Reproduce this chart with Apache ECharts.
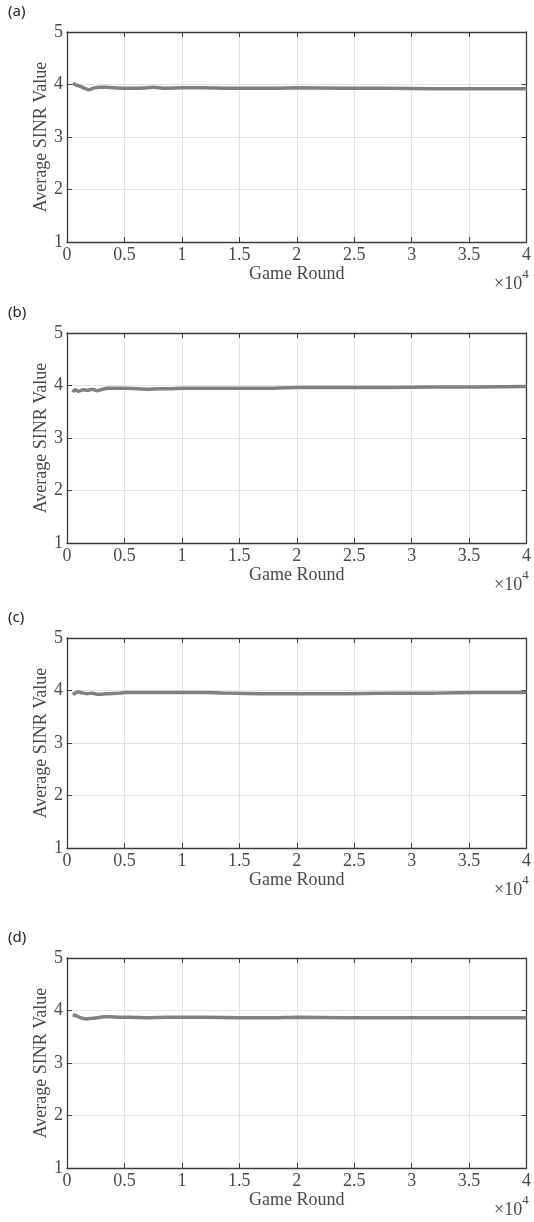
<!DOCTYPE html>
<html>
<head>
<meta charset="utf-8">
<script src="https://cdn.jsdelivr.net/npm/echarts@6/dist/echarts.min.js"></script>
<style>html,body{margin:0;padding:0;background:#fff}#c{width:534px;height:1222px}</style>
</head>
<body>
<div id="c"></div>
<script>
// ---- data ----
const panelLabels = ['(a)', '(b)', '(c)', '(d)'];
const xTickLabels = ['0', '0.5', '1', '1.5', '2', '2.5', '3', '3.5', '4'];
const yTickLabels = ['1', '2', '3', '4', '5'];
const xName = 'Game Round';
const yName = 'Average SINR Value';

const roundsA = [500, 800, 1200, 1600, 1900, 2300, 2800, 3300, 4000, 5000, 6000, 7000, 7600, 8500, 10000, 12000, 14000, 16000, 18000, 20000, 24000, 28000, 32000, 36000, 40000];
const sinrA   = [4.02, 3.99, 3.96, 3.92, 3.90, 3.93, 3.95, 3.95, 3.94, 3.93, 3.93, 3.94, 3.95, 3.93, 3.94, 3.94, 3.93, 3.93, 3.93, 3.94, 3.93, 3.93, 3.92, 3.92, 3.92];

const roundsB = [500, 700, 1000, 1400, 1800, 2200, 2600, 3000, 3500, 4200, 5000, 6000, 7000, 8000, 9000, 10000, 12000, 15000, 18000, 20000, 24000, 28000, 32000, 36000, 40000];
const sinrB   = [3.87, 3.92, 3.89, 3.92, 3.91, 3.93, 3.90, 3.92, 3.95, 3.95, 3.95, 3.94, 3.93, 3.94, 3.94, 3.95, 3.95, 3.95, 3.95, 3.96, 3.96, 3.96, 3.97, 3.97, 3.98];

const roundsC = [500, 700, 1000, 1400, 1800, 2200, 2600, 3000, 3600, 4500, 5000, 6000, 8000, 10000, 12000, 14000, 17000, 20000, 24000, 28000, 32000, 36000, 40000];
const sinrC   = [3.92, 3.95, 3.97, 3.95, 3.94, 3.95, 3.93, 3.93, 3.94, 3.95, 3.96, 3.96, 3.96, 3.96, 3.96, 3.95, 3.94, 3.94, 3.94, 3.95, 3.95, 3.96, 3.96];

const roundsD = [500, 800, 1100, 1400, 1700, 2100, 2600, 3200, 3800, 4500, 5500, 7000, 8500, 10000, 12000, 15000, 18000, 20000, 24000, 28000, 32000, 36000, 40000];
const sinrD   = [3.92, 3.90, 3.87, 3.85, 3.84, 3.85, 3.86, 3.88, 3.88, 3.87, 3.87, 3.86, 3.87, 3.87, 3.87, 3.86, 3.86, 3.87, 3.86, 3.86, 3.86, 3.86, 3.86];

const panels = [
  { rounds: roundsA, sinr: sinrA },
  { rounds: roundsB, sinr: sinrB },
  { rounds: roundsC, sinr: sinrC },
  { rounds: roundsD, sinr: sinrD }
];

// ---- layout ----
const gridTops = [32, 333, 638, 958];
const gridH = 210;
const gridL = 67;
const gridR = 2;
const serif = '"Liberation Serif", "DejaVu Serif", serif';
const axisColor = '#3c3c3c';
const textColor = '#4a4a4a';

const grid = [], xAxis = [], yAxis = [], series = [], graphic = [];

panels.forEach((p, i) => {
  grid.push({ left: gridL, right: gridR, top: gridTops[i], height: gridH, show: false });
  xAxis.push({
    gridIndex: i, type: 'value', min: 0, max: 40000, interval: 5000,
    position: 'bottom',
    name: xName, nameLocation: 'middle', nameGap: 18,
    nameTextStyle: { fontFamily: serif, fontSize: 18, color: textColor },
    axisLine: { show: true, onZero: false, lineStyle: { color: axisColor, width: 1.3 } },
    axisTick: { show: true, inside: true, length: 5, lineStyle: { color: axisColor } },
    axisLabel: { fontFamily: serif, fontSize: 18, color: textColor, margin: 4,
                 formatter: (v) => xTickLabels[Math.round(v / 5000)] },
    splitLine: { show: true, lineStyle: { color: '#e3e3e3', width: 1 } }
  });
  xAxis.push({
    gridIndex: i, type: 'value', min: 0, max: 40000, interval: 5000,
    position: 'top',
    axisLine: { show: true, onZero: false, lineStyle: { color: axisColor, width: 1.3 } },
    axisTick: { show: true, inside: true, length: 5, lineStyle: { color: axisColor } },
    axisLabel: { show: false }, splitLine: { show: false }
  });
  yAxis.push({
    gridIndex: i, type: 'value', min: 1, max: 5, interval: 1,
    position: 'left',
    name: yName, nameLocation: 'middle', nameGap: 17, nameRotate: 90,
    nameMoveOverlap: false,
    nameTextStyle: { fontFamily: serif, fontSize: 18, color: textColor },
    axisLine: { show: true, onZero: false, lineStyle: { color: axisColor, width: 1.3 } },
    axisTick: { show: true, inside: true, length: 5, lineStyle: { color: axisColor } },
    axisLabel: { fontFamily: serif, fontSize: 18, color: textColor, margin: 4,
                 formatter: (v) => yTickLabels[Math.round(v) - 1] },
    splitLine: { show: true, lineStyle: { color: '#e3e3e3', width: 1 } }
  });
  yAxis.push({
    gridIndex: i, type: 'value', min: 1, max: 5, interval: 1,
    position: 'right',
    axisLine: { show: true, onZero: false, lineStyle: { color: axisColor, width: 1.3 } },
    axisTick: { show: true, inside: true, length: 5, lineStyle: { color: axisColor } },
    axisLabel: { show: false }, splitLine: { show: false }
  });
  series.push({
    type: 'line', xAxisIndex: 2 * i, yAxisIndex: 2 * i,
    data: p.rounds.map((r, k) => [r, p.sinr[k]]),
    showSymbol: false, smooth: 0.2,
    lineStyle: { color: '#808080', width: 3.5 },
    itemStyle: { color: '#808080' },
    z: 3
  });
  graphic.push({
    type: 'text', left: 8, top: gridTops[i] - 28,
    style: { text: panelLabels[i], font: '15px "Noto Sans", "Open Sans", sans-serif', fill: '#222' }
  });
  graphic.push({
    type: 'text', left: 494, top: gridTops[i] + gridH + 26,
    style: {
      text: '{a|×10}{b|4}',
      rich: {
        a: { fontFamily: serif, fontSize: 18, fill: textColor, verticalAlign: 'bottom', padding: [7, 0, 0, 0] },
        b: { fontFamily: serif, fontSize: 13, fill: textColor, verticalAlign: 'top' }
      }
    }
  });
});

const chart = echarts.init(document.getElementById('c'), null, { renderer: 'canvas' });
chart.setOption({ animation: false, grid, xAxis, yAxis, series, graphic });
</script>
</body>
</html>
